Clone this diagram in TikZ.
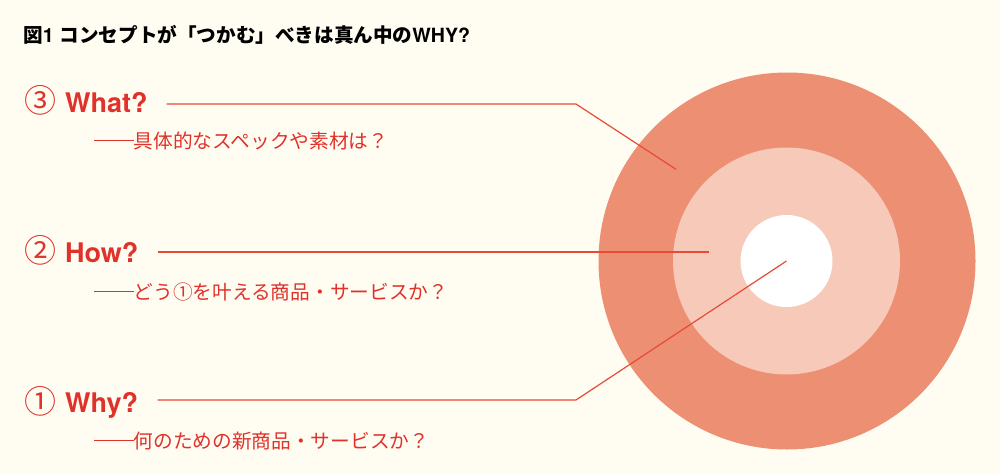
\documentclass[tikz,border=0pt]{standalone}
\usepackage{fontspec}
\newfontfamily\jp{Noto Sans CJK JP}
\newfontfamily\lat{TeX Gyre Heros}
\definecolor{bgc}{HTML}{FFFDF2}
\definecolor{ringout}{HTML}{EC8F73}
\definecolor{ringmid}{HTML}{F6C9B8}
\definecolor{redtxt}{HTML}{E0322B}
\definecolor{redline}{HTML}{E84A36}
\newcommand{\circnum}[1]{\raisebox{-0.5pt}{\fontsize{32}{32}\selectfont\jp\mdseries #1}}
\newcommand{\longdash}{\rule[0.36em]{2em}{0.07em}}
\tikzset{
  ring/.style={circle, inner sep=0pt, draw=none},
  lab/.style={anchor=base west, inner sep=0pt, text=redtxt, font=\fontsize{27}{27}\selectfont\lat\bfseries},
  sub/.style={anchor=west, inner sep=0pt, text=redtxt, font=\fontsize{19.7}{19.7}\selectfont\jp},
  conn/.style={draw=redline, line width=1.2pt, line join=miter},
}
\begin{document}
\begin{tikzpicture}[x=1pt,y=-1pt]
\fill[bgc] (0,0) rectangle (1000,474);
\useasboundingbox (0,0) rectangle (1000,474);
% title
\node[anchor=base west, inner sep=0pt, text=black, font=\fontsize{19.6}{19.6}\selectfont] (title) at (23,42.3)
  {{\jp\bfseries 図}{\lat\bfseries 1} {\jp\bfseries コンセプトが「つかむ」べきは真ん中の}{\lat\bfseries WHY?}};
% rings
\node[ring, fill=ringout, minimum size=377pt] (outer) at (787,261) {};
\node[ring, fill=ringmid, minimum size=227pt] (middle) at (786.5,261) {};
\node[ring, fill=white, minimum size=92pt] (inner) at (786.5,261) {};
% labels
\node[lab] (what) at (24,112) {\circnum{③}\hspace{9pt}What?};
\node[sub] (whatsub) at (94,140.8) {\longdash 具体的なスペックや素材は？};
\node[lab] (how) at (24,262) {\circnum{②}\hspace{9pt}How?};
\node[sub] (howsub) at (94,291.7) {\longdash どう①を叶える商品・サービスか？};
\node[lab] (why) at (24,412.5) {\circnum{①}\hspace{9pt}Why?};
\node[sub] (whysub) at (94,440.8) {\longdash 何のための新商品・サービスか？};
% connectors
\coordinate (wa) at (166.7,104);
\coordinate (wb) at (576,104);
\coordinate (wc) at (676,169.3);
\coordinate (ha) at (157.7,252);
\coordinate (hb) at (709.3,252);
\coordinate (ya) at (157.5,400);
\coordinate (yb) at (576,400);
\draw[conn] (wa) -- (wb) -- (wc);
\draw[conn] (ha) -- (hb);
\draw[conn] (ya) -- (yb) -- (inner.center);
\end{tikzpicture}
\end{document}
